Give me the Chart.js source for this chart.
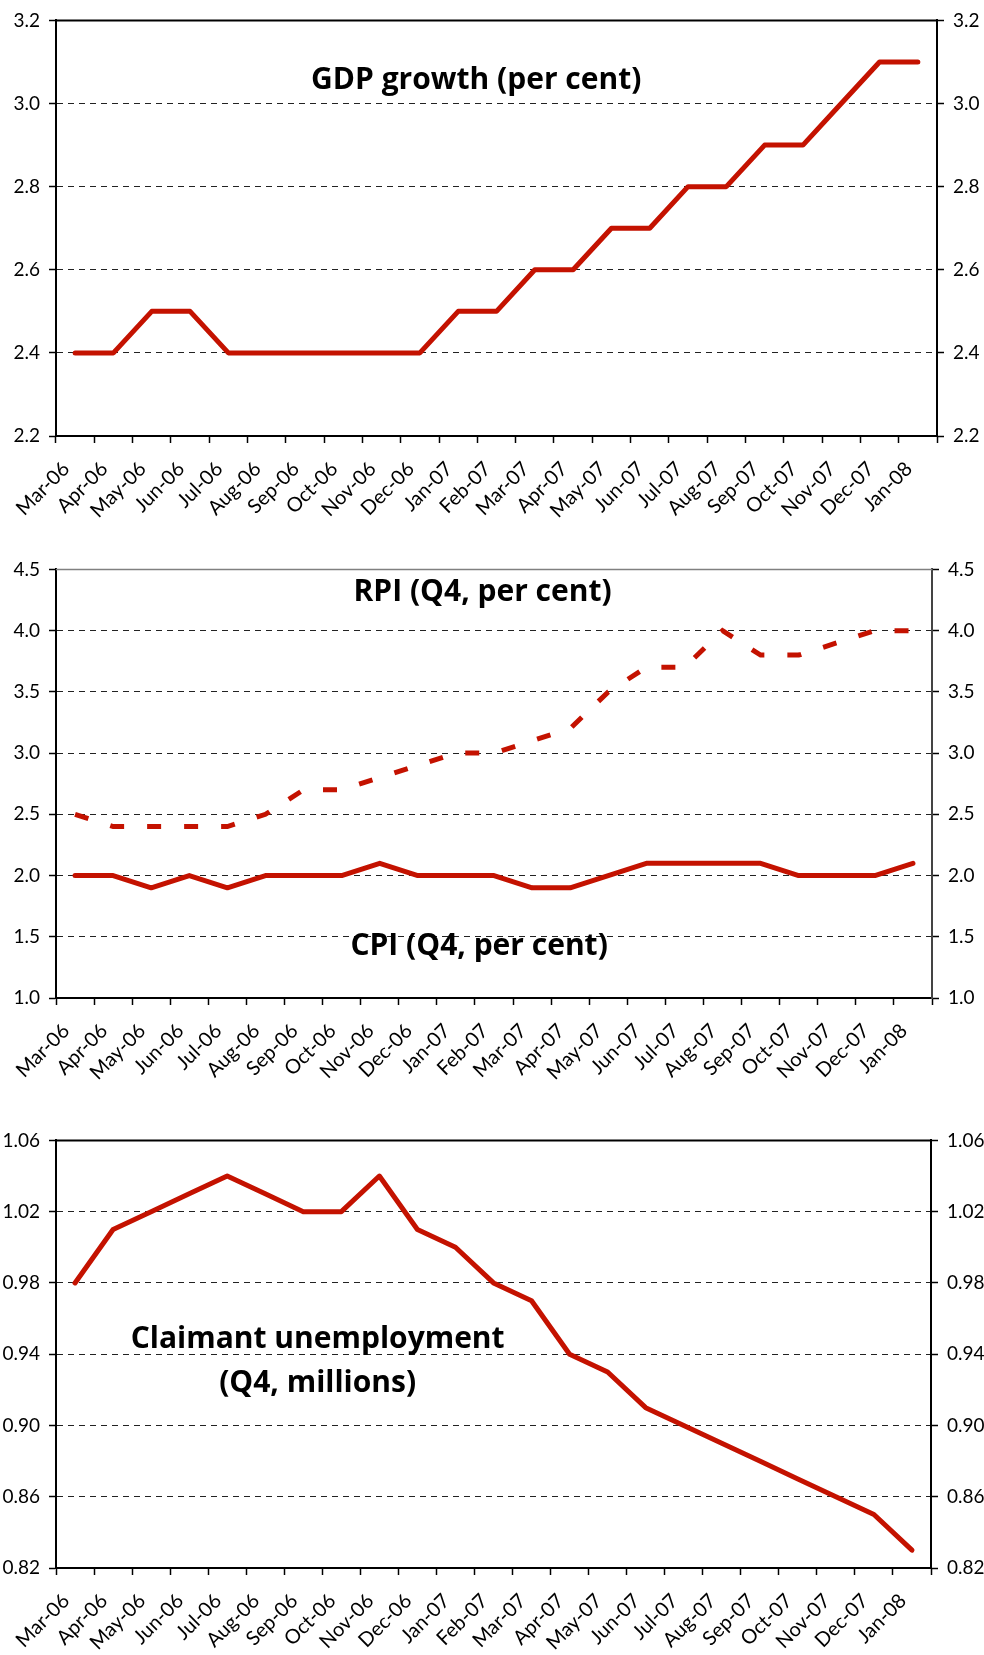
<!DOCTYPE html>
<html lang="en">
<head>
<meta charset="UTF-8">
<title>GDP growth, inflation and claimant unemployment</title>
<script src="https://cdn.jsdelivr.net/npm/chart.js"></script>
<style>
  body { margin: 0; background: #fff; }
  .panel { position: absolute; left: 0; width: 984px; }
</style>
</head>
<body>
<div class="panel" style="top:0px"><canvas id="gdpChart" width="984" height="525"></canvas></div>
<div class="panel" style="top:549px"><canvas id="priceChart" width="984" height="538"></canvas></div>
<div class="panel" style="top:1120px"><canvas id="claimantChart" width="984" height="535"></canvas></div>

<script>
const months = ['Mar-06', 'Apr-06', 'May-06', 'Jun-06', 'Jul-06', 'Aug-06', 'Sep-06', 'Oct-06',
                'Nov-06', 'Dec-06', 'Jan-07', 'Feb-07', 'Mar-07', 'Apr-07', 'May-07', 'Jun-07',
                'Jul-07', 'Aug-07', 'Sep-07', 'Oct-07', 'Nov-07', 'Dec-07', 'Jan-08'];

const gdpGrowth = [2.4, 2.4, 2.5, 2.5, 2.4, 2.4, 2.4, 2.4, 2.4, 2.4, 2.5, 2.5,
                   2.6, 2.6, 2.7, 2.7, 2.8, 2.8, 2.9, 2.9, 3.0, 3.1, 3.1];
const rpi = [2.5, 2.4, 2.4, 2.4, 2.4, 2.5, 2.7, 2.7, 2.8, 2.9, 3.0, 3.0,
             3.1, 3.2, 3.5, 3.7, 3.7, 4.0, 3.8, 3.8, 3.9, 4.0, 4.0];
const cpi = [2.0, 2.0, 1.9, 2.0, 1.9, 2.0, 2.0, 2.0, 2.1, 2.0, 2.0, 2.0,
             1.9, 1.9, 2.0, 2.1, 2.1, 2.1, 2.1, 2.0, 2.0, 2.0, 2.1];
const claimant = [0.98, 1.01, 1.02, 1.03, 1.04, 1.03, 1.02, 1.02, 1.04, 1.01, 1.00, 0.98,
                  0.97, 0.94, 0.93, 0.91, 0.90, 0.89, 0.88, 0.87, 0.86, 0.85, 0.83];

const RED = '#c41200';
Chart.defaults.font.family = 'Lato, "Open Sans", sans-serif';
Chart.defaults.font.size = 19;
Chart.defaults.color = '#000';

// top frame line + bold captions inside the plot (placed as fractions of the plot area)
const plotText = {
  id: 'plotText',
  afterDatasetsDraw(chart, args, opts) {
    const { ctx, chartArea: a } = chart;
    ctx.save();
    ctx.strokeStyle = opts.frameColor;
    ctx.lineWidth = opts.frameWidth;
    ctx.beginPath();
    ctx.moveTo(a.left, a.top);
    ctx.lineTo(a.right, a.top);
    ctx.stroke();
    ctx.font = 'bold 30px "Open Sans", Lato, sans-serif';
    ctx.fillStyle = '#000';
    ctx.textAlign = 'center';
    ctx.textBaseline = 'alphabetic';
    for (const t of opts.items) {
      ctx.fillText(t.text, a.left + t.fx * (a.right - a.left), a.top + t.fy * (a.bottom - a.top));
    }
    ctx.restore();
  }
};

function makeChart(id, datasets, y, area, deco) {
  const canvas = document.getElementById(id);
  const W = canvas.width, H = canvas.height;

  const yAxis = (side) => ({
    position: side,
    min: y.min,
    max: y.max,
    afterFit: s => { s.width = side === 'left' ? area.left : W - area.right; },
    ticks: { stepSize: y.step, padding: 9, font: { size: 19 }, callback: v => Number(v).toFixed(y.decimals) },
    grid: {
      drawOnChartArea: side === 'left',
      color: c => (c.tick && Math.abs(c.tick.value - y.max) < 1e-9) ? 'rgba(0,0,0,0)' : '#222',
      lineWidth: 1,
      tickLength: 7,
      tickColor: '#000',
      tickWidth: 1.5
    },
    border: { color: side === 'left' ? '#000' : deco.rightColor, width: 2, dash: [6, 5] }
  });

  return new Chart(canvas, {
    type: 'line',
    data: { labels: months, datasets: datasets },
    options: {
      responsive: false,
      animation: false,
      events: [],
      layout: { padding: { top: area.top, left: 0, right: 0, bottom: 0 } },
      plugins: {
        legend: { display: false },
        tooltip: { enabled: false },
        plotText: { frameColor: deco.frameColor, frameWidth: deco.frameWidth, items: deco.captions }
      },
      scales: {
        x: {
          offset: true,
          afterFit: s => { s.height = H - area.bottom; },
          grid: { offset: true, drawOnChartArea: false, tickLength: 7, tickColor: '#000', tickWidth: 1.5 },
          border: { color: '#000', width: 2 },
          ticks: { autoSkip: false, minRotation: 45, maxRotation: 45, padding: 14, labelOffset: -9, font: { size: 20 } }
        },
        y: yAxis('left'),
        y2: yAxis('right')
      }
    },
    plugins: [plotText]
  });
}

const solid = (data) => ({
  data: data, borderColor: RED, borderWidth: 5, pointRadius: 0, tension: 0,
  borderJoinStyle: 'round', borderCapStyle: 'round', fill: false
});

makeChart('gdpChart', [solid(gdpGrowth)],
  { min: 2.2, max: 3.2, step: 0.2, decimals: 1 },
  { left: 56, right: 937, top: 18, bottom: 436 },
  { frameColor: '#000', frameWidth: 2, rightColor: '#000',
    captions: [{ text: 'GDP growth (per cent)', fx: 0.477, fy: 0.165 }] });

makeChart('priceChart', [
    Object.assign(solid(rpi), { borderDash: [14, 23], borderCapStyle: 'butt', borderJoinStyle: 'miter' }),
    solid(cpi)
  ],
  { min: 1.0, max: 4.5, step: 0.5, decimals: 1 },
  { left: 56, right: 932, top: 18, bottom: 449 },
  { frameColor: '#808080', frameWidth: 1.5, rightColor: '#444',
    captions: [{ text: 'RPI (Q4, per cent)', fx: 0.487, fy: 0.074 },
               { text: 'CPI (Q4, per cent)', fx: 0.483, fy: 0.900 }] });

makeChart('claimantChart', [solid(claimant)],
  { min: 0.82, max: 1.06, step: 0.04, decimals: 2 },
  { left: 56, right: 931, top: 18, bottom: 448 },
  { frameColor: '#000', frameWidth: 2, rightColor: '#000',
    captions: [{ text: 'Claimant unemployment', fx: 0.299, fy: 0.485 },
               { text: '(Q4, millions)', fx: 0.299, fy: 0.588 }] });
</script>
</body>
</html>
